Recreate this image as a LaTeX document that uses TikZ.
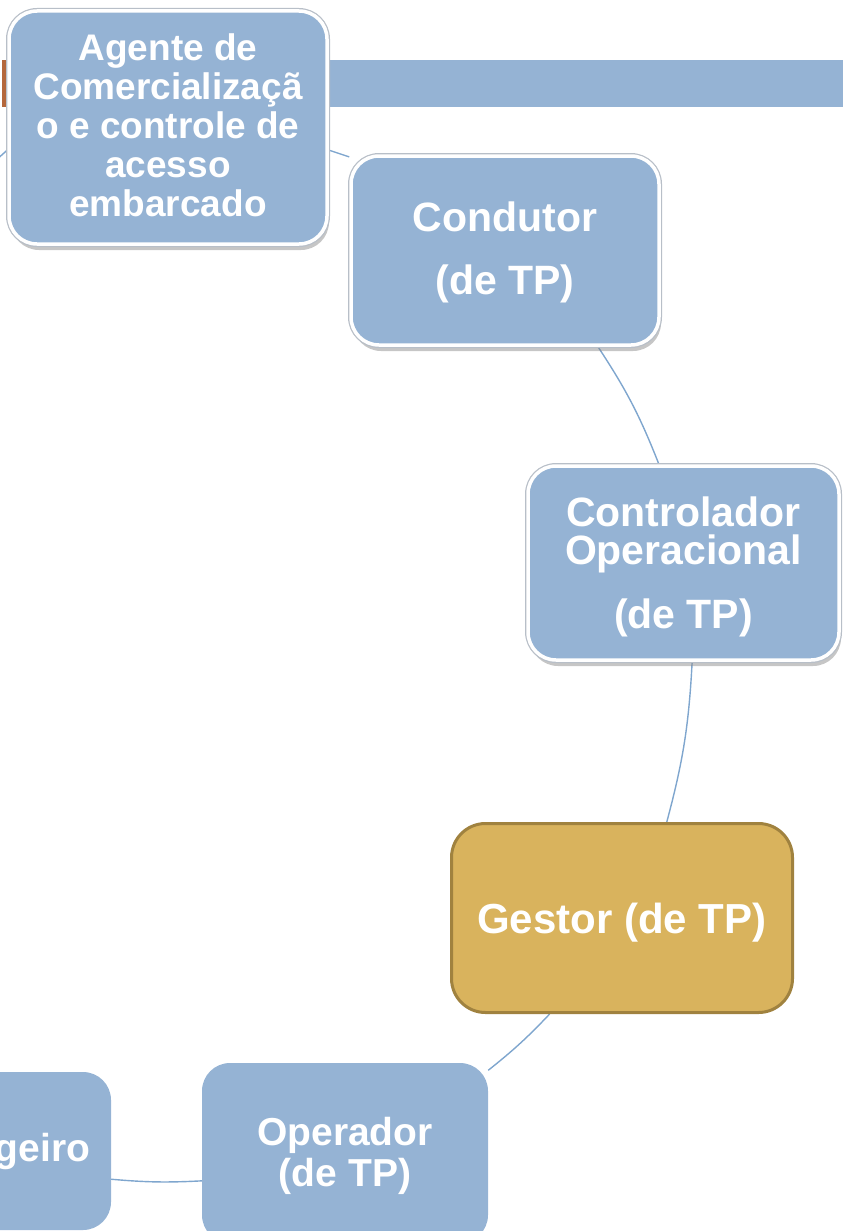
\documentclass[tikz,border=0pt]{standalone}
\usepackage{fontspec}
\setmainfont{Liberation Sans}
\usetikzlibrary{shadows,backgrounds}
\definecolor{boxblue}{HTML}{95B3D4}
\definecolor{linkblue}{HTML}{7FA6CE}
\definecolor{goldfill}{HTML}{D9B35D}
\definecolor{golddark}{HTML}{A0823F}
\definecolor{rust}{HTML}{B4673C}
\definecolor{rimgray}{HTML}{B8BFC8}
\tikzset{
  framedbox/.style={rounded corners=28pt, fill=boxblue, draw=white, line width=3.5pt,
    drop shadow={shadow xshift=2pt, shadow yshift=-6pt, opacity=0.45},
    preaction={draw=rimgray, line width=6pt},
    text=white, align=center, inner sep=0pt},
  flatbox/.style={rounded corners=28pt, fill=boxblue, text=white, align=center, inner sep=0pt},
  goldbox/.style={rounded corners=34pt, fill=goldfill, draw=golddark, line width=3pt,
    text=white, align=center, inner sep=0pt},
  link/.style={draw=linkblue, line width=1.4pt},
}
\begin{document}
\begin{tikzpicture}[x=1pt,y=-1pt]
\useasboundingbox (0,0) rectangle (843,1231);
% top band
\fill[rust] (2,60) rectangle (8,107);
\fill[boxblue] (8,60) rectangle (843,107);
% nodes
\node[framedbox, minimum width=318pt, minimum height=233pt,
  font={\bfseries\fontsize{37}{39}\selectfont}, text depth=5pt] (ag) at (168,127.5)
  {Agente de\\Comercializaçã\\o e controle de\\acesso\\embarcado};
\node[framedbox, minimum width=308pt, minimum height=189pt,
  font={\bfseries\fontsize{41}{63}\selectfont}, text depth=5pt] (cond) at (505,250.5)
  {Condutor\\(de TP)};
\node[framedbox, minimum width=311pt, minimum height=194pt,
  font={\bfseries\fontsize{41}{38}\selectfont}, text depth=0pt] (ctrl) at (683.5,563)
  {Controlador\\Operacional\\[25pt](de TP)};
\node[goldbox, minimum width=341pt, minimum height=189pt,
  font={\bfseries\fontsize{42}{46}\selectfont}, text depth=0pt] (gest) at (622,918)
  {Gestor (de TP)};
\node[flatbox, minimum width=286pt, minimum height=180pt,
  font={\bfseries\fontsize{39}{41}\selectfont}, text depth=2pt] (oper) at (345,1153)
  {Operador\\(de TP)};
\node[flatbox, minimum width=290pt, minimum height=158pt, text width=248pt,
  inner xsep=21pt, align=right,
  font={\bfseries\fontsize{39}{41}\selectfont}] (pas) at (-34,1151)
  {geiro};
\coordinate (c0) at (-6,162);
% connectors
\begin{scope}[on background layer]
\draw[link] (c0) -- (ag.188);
\draw[link] (ag.-8) -- (cond.149);
\draw[link] (cond.-46) to[bend left=6] (ctrl.104);
\draw[link] (ctrl.-85) to[bend left=6] (gest.65);
\draw[link] (gest.-127) to[bend left=4] (oper.30);
\draw[link] (oper.191) to[bend left=4] (pas.-11);
\end{scope}
\end{tikzpicture}
\end{document}
